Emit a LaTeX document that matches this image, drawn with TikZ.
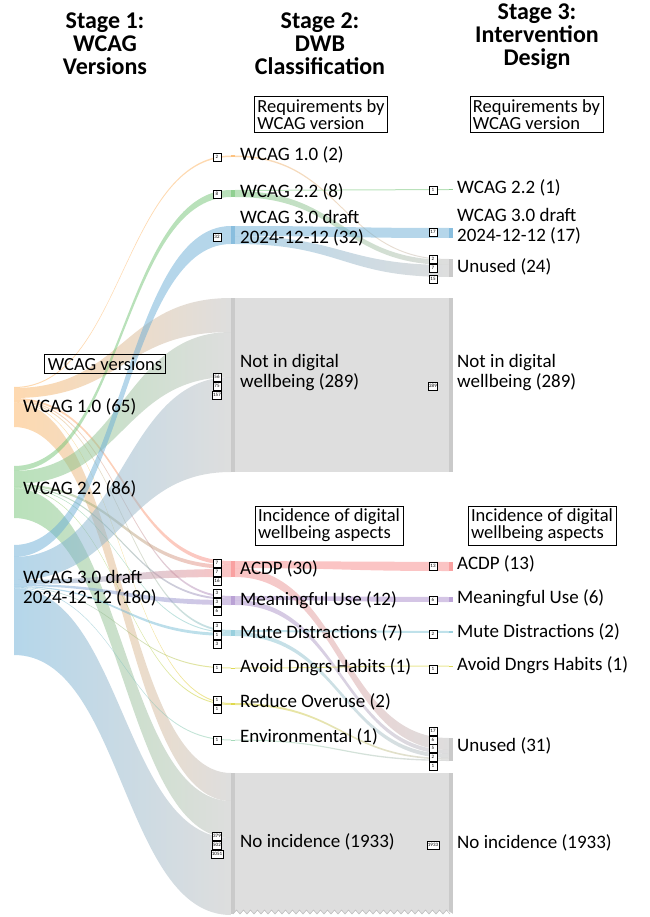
\documentclass[tikz,border=0pt]{standalone}
\usepackage{fontspec}
\setmainfont{Carlito}
\usetikzlibrary{positioning}

\definecolor{cOne}{HTML}{FDB462}
\definecolor{cTwo}{HTML}{74C476}
\definecolor{cThree}{HTML}{6BAED6}
\definecolor{cGrey}{HTML}{BDBDBD}
\definecolor{cAcdp}{HTML}{F78A8A}
\definecolor{cMu}{HTML}{A98BCB}
\definecolor{cMd}{HTML}{7FC4D6}
\definecolor{cAvoid}{HTML}{D4CF2A}
\definecolor{cReduce}{HTML}{D8D020}
\definecolor{cEnv}{HTML}{8FCFA8}

\tikzset{
  flow/.style={fill opacity=0.5},
  bar/.style={fill opacity=0.8},
  cnt/.style={draw, fill=white, line width=0.7pt, inner sep=0.8pt,
    minimum height=8pt, minimum width=8pt, font=\fontsize{5}{5}\selectfont},
  lbl/.style={anchor=west, align=left, inner sep=0pt, font=\fontsize{19}{20}\selectfont},
  hdr/.style={align=center, inner sep=0pt, font=\bfseries\fontsize{24}{23}\selectfont},
  group/.style={draw, thick, align=left, inner sep=3pt, font=\fontsize{18.5}{17}\selectfont}
}

% band between two stages: x1, top1, bottom1, x2, top2, bottom2, colour from, colour to
\newcommand\link[8]{%
  \path[flow, left color=#7, right color=#8]
    (#1,#2) .. controls ({(#1+#4)/2},#2) and ({(#1+#4)/2},#5) .. (#4,#5)
    -- (#4,#6) .. controls ({(#1+#4)/2},#6) and ({(#1+#4)/2},#3) .. (#1,#3) -- cycle;}

\begin{document}
\begin{tikzpicture}[x=1pt, y=-1pt]
\useasboundingbox (0,0) rectangle (649,917);

% stage 1 -> stage 2
\link{14}{387}{388}{231}{155.5}{157}{cOne}{cOne}
\link{14}{388}{398}{231}{298}{332}{cOne}{cGrey}
\link{14}{398}{400}{231}{561}{565}{cOne}{cAcdp}
\link{14}{400}{401}{231}{596}{598}{cOne}{cMu}
\link{14}{401}{402}{231}{630}{632}{cOne}{cMd}
\link{14}{402}{402.6}{231}{703}{704}{cOne}{cReduce}
\link{14}{402.6}{427}{231}{773}{801}{cOne}{cGrey}

\link{14}{466}{471}{231}{190}{197}{cTwo}{cTwo}
\link{14}{471}{484}{231}{332}{377}{cTwo}{cGrey}
\link{14}{484}{486}{231}{565}{569}{cTwo}{cAcdp}
\link{14}{486}{487}{231}{598}{600}{cTwo}{cMu}
\link{14}{487}{487.6}{231}{632}{633}{cTwo}{cMd}
\link{14}{487.6}{488.2}{231}{704}{705}{cTwo}{cReduce}
\link{14}{488.2}{518}{231}{801}{838}{cTwo}{cGrey}

\link{14}{545}{557}{231}{226}{244}{cThree}{cThree}
\link{14}{557}{580}{231}{377}{472}{cThree}{cGrey}
\link{14}{580}{584}{231}{569}{577}{cThree}{cAcdp}
\link{14}{584}{586}{231}{600}{605}{cThree}{cMu}
\link{14}{586}{587}{231}{633}{636}{cThree}{cMd}
\link{14}{587}{587.6}{231}{667.5}{668.5}{cThree}{cAvoid}
\link{14}{587.6}{588.2}{231}{739.5}{740.5}{cThree}{cEnv}
\link{14}{588.2}{655}{231}{838}{915}{cThree}{cGrey}

% stage 2 -> stage 3
\link{235}{155.5}{157}{449}{259}{260}{cOne}{cGrey}
\link{235}{190}{191}{449}{189}{190}{cTwo}{cTwo}
\link{235}{191}{197}{449}{260}{265}{cTwo}{cGrey}
\link{235}{226}{236}{449}{228}{238}{cThree}{cThree}
\link{235}{236}{244}{449}{265}{277}{cThree}{cGrey}
\fill[cGrey, flow] (235,298) rectangle (449,472);
\link{235}{561}{568}{449}{562}{571}{cAcdp}{cAcdp}
\link{235}{568}{577}{449}{738}{750}{cAcdp}{cGrey}
\link{235}{596}{600}{449}{597}{602}{cMu}{cMu}
\link{235}{600}{605}{449}{750}{754}{cMu}{cGrey}
\link{235}{630}{632}{449}{631}{633}{cMd}{cMd}
\link{235}{632}{636}{449}{754}{758}{cMd}{cGrey}
\link{235}{667.5}{668.5}{449}{665.5}{666.5}{cAvoid}{cAvoid}
\link{235}{703}{705}{449}{758}{759.6}{cReduce}{cGrey}
\link{235}{739.5}{740.5}{449}{759.6}{761}{cEnv}{cGrey}
\fill[cGrey, flow] (235,773) rectangle (449,915);

% node bars
\foreach \ya/\yb/\col in {155.5/157/cOne, 190/197/cTwo, 226/244/cThree, 298/472/cGrey,
    561/577/cAcdp, 596/605/cMu, 630/636/cMd, 667.5/668.5/cAvoid, 703/705/cReduce,
    739.5/740.5/cEnv, 773/915/cGrey}
  \fill[\col, bar] (231,\ya) rectangle (235,\yb);
\foreach \ya/\yb/\col in {189/190/cTwo, 228/238/cThree, 259/277/cGrey, 298/472/cGrey,
    562/571/cAcdp, 597/602/cMu, 631/633/cMd, 665.5/666.5/cAvoid, 738/761/cGrey, 773/915/cGrey}
  \fill[\col, bar] (449,\ya) rectangle (453,\yb);

% cut-off edge of no incidence
\fill[white] (231,917) -- (231,914)
  \foreach \i in {0,...,30} { -- ({233+7*\i},914) -- ({236.5+7*\i},910) } -- (453,914) -- (453,917) -- cycle;
\draw[cGrey, line width=0.6pt] (233,914)
  \foreach \i in {0,...,30} { -- ({236.5+7*\i},910) -- ({240+7*\i},914) };

% titles
\node[hdr] (t1) at (105,44) {Stage 1:\\WCAG\\Versions};
\node[hdr] (t2) at (320,44) {Stage 2:\\DWB\\Classification};
\node[hdr] (t3) at (537,37) {Stage 3:\\Intervention\\Design};

% group boxes
\node[group] (g1) at (105,364) {WCAG versions};
\node[group] (g2) at (321,114.5) {Requirements by\\WCAG version};
\node[group] (g3) at (536.5,114.5) {Requirements by\\WCAG version};
\node[group] (g4) at (329,525.5) {Incidence of digital\\wellbeing aspects};
\node[group] (g5) at (542,525.5) {Incidence of digital\\wellbeing aspects};

% stage 1 labels
\node[lbl] (a10) at (23,407) {WCAG 1.0 (65)};
\node[lbl] (a22) at (23,489) {WCAG 2.2 (86)};
\node[lbl] (a30) at (23,588) {WCAG 3.0 draft\\2024-12-12 (180)};

% stage 2 labels
\node[lbl] (b10) at (240,155) {WCAG 1.0 (2)};
\node[lbl] (b22) at (240,192) {WCAG 2.2 (8)};
\node[lbl] (b30) at (240,228) {WCAG 3.0 draft\\2024-12-12 (32)};
\node[lbl] (bnd) at (240,373) {Not in digital\\wellbeing (289)};
\node[lbl] (bac) at (240,569) {ACDP (30)};
\node[lbl] (bmu) at (240,600) {Meaningful Use (12)};
\node[lbl] (bmd) at (240,633) {Mute Distractions (7)};
\node[lbl] (bav) at (240,667) {Avoid Dngrs Habits (1)};
\node[lbl] (bro) at (240,702) {Reduce Overuse (2)};
\node[lbl] (ben) at (240,737) {Environmental (1)};
\node[lbl] (bni) at (240,842) {No incidence (1933)};

% stage 3 labels
\node[lbl] (c22) at (457,188) {WCAG 2.2 (1)};
\node[lbl] (c30) at (457,226) {WCAG 3.0 draft\\2024-12-12 (17)};
\node[lbl] (cu1) at (457,267) {Unused (24)};
\node[lbl] (cnd) at (457,373) {Not in digital\\wellbeing (289)};
\node[lbl] (cac) at (457,564) {ACDP (13)};
\node[lbl] (cmu) at (457,598) {Meaningful Use (6)};
\node[lbl] (cmd) at (457,632) {Mute Distractions (2)};
\node[lbl] (cav) at (457,665) {Avoid Dngrs Habits (1)};
\node[lbl] (cu2) at (457,746) {Unused (31)};
\node[lbl] (cni) at (457,843) {No incidence (1933)};

% counts
\foreach \y/\t [count=\i] in {157/2, 194/8, 237/32, 377/56, 386/75, 395/157, 563/7, 572/7,
    581/16, 593/3, 602/3, 611/6, 626/3, 635/1, 644/3, 668/1, 700/1, 709/1, 740/1,
    836/379, 845/502, 854/1051}
  \node[cnt] (m\i) at (217,\y) {\t};
\foreach \y/\t [count=\i] in {190/1, 232/17, 259/2, 268/7, 279/15, 386/289, 566/13, 600/6,
    634/2, 669/1, 731/17, 740/6, 748/5, 757/2, 766/1, 845/1933}
  \node[cnt] (n\i) at (433,\y) {\t};
\end{tikzpicture}
\end{document}
